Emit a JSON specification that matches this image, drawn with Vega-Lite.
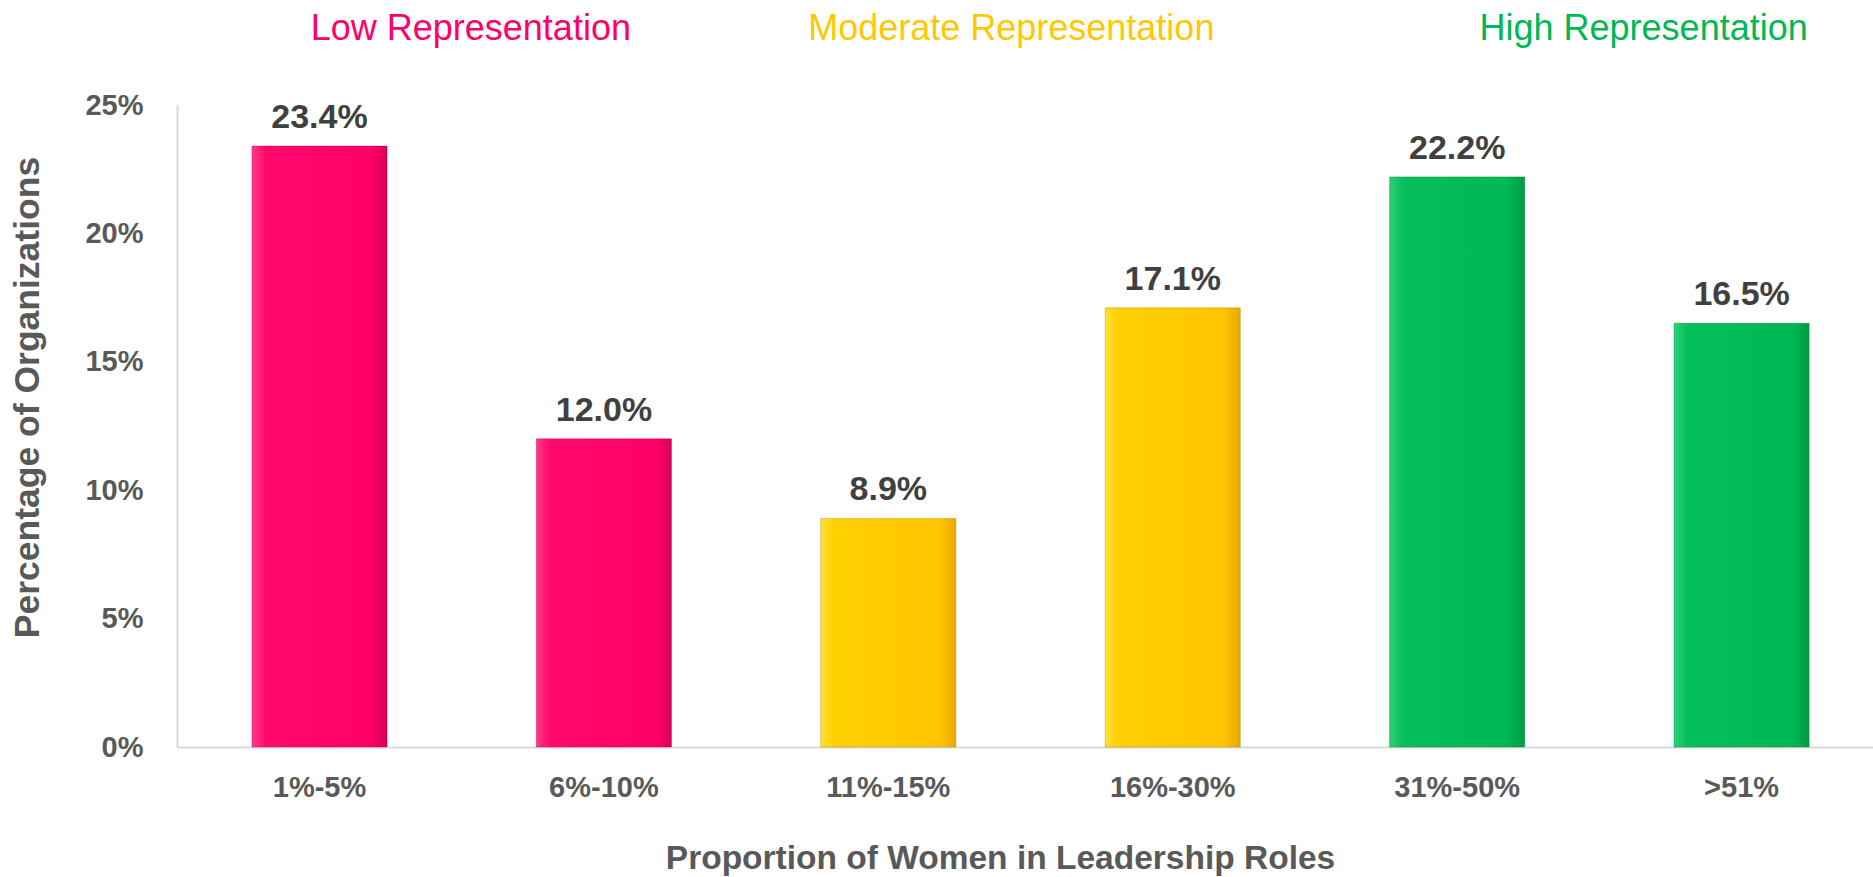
{
  "$schema": "https://vega.github.io/schema/vega-lite/v6.json",
  "width": 1696,
  "height": 642,
  "autosize": {"type": "none"},
  "padding": {"left": 177, "top": 105, "right": 0, "bottom": 130},
  "background": "white",
  "config": {"view": {"stroke": null}, "font": "Liberation Sans"},
  "datasets": {
    "bars": [
      {"range": "1%-5%", "pct": 0.234, "group": "Low Representation"},
      {"range": "6%-10%", "pct": 0.120, "group": "Low Representation"},
      {"range": "11%-15%", "pct": 0.089, "group": "Moderate Representation"},
      {"range": "16%-30%", "pct": 0.171, "group": "Moderate Representation"},
      {"range": "31%-50%", "pct": 0.222, "group": "High Representation"},
      {"range": ">51%", "pct": 0.165, "group": "High Representation"}
    ]
  },
  "data": {"name": "bars"},
  "encoding": {
    "x": {
      "field": "range",
      "type": "nominal",
      "sort": null,
      "scale": {
        "domain": ["1%-5%", "6%-10%", "11%-15%", "16%-30%", "31%-50%", ">51%"],
        "paddingInner": 0.525,
        "paddingOuter": 0.244,
        "align": 0.54
      },
      "axis": {
        "title": "Proportion of Women in Leadership Roles",
        "labelAngle": 0,
        "ticks": false,
        "grid": false,
        "domainColor": "#D9D9D9",
        "domainWidth": 2,
        "labelFont": "Liberation Sans",
        "labelFontSize": 29,
        "labelFontWeight": "bold",
        "labelColor": "#595959",
        "labelPadding": 26,
        "titleFont": "Liberation Sans",
        "titleFontSize": 33.5,
        "titleFontWeight": "bold",
        "titleColor": "#595959",
        "titleX": 823,
        "titleY": 121,
        "titleAlign": "center",
        "titleBaseline": "alphabetic"
      }
    }
  },
  "layer": [
    {
      "transform": [{"filter": "datum.group === 'Low Representation'"}],
      "mark": {
        "type": "bar",
        "stroke": "#C0004E",
        "strokeWidth": 1,
        "strokeOpacity": 0.4,
        "color": {
          "x1": 0, "y1": 0, "x2": 1, "y2": 0,
          "gradient": "linear",
          "stops": [
            {"offset": 0, "color": "#FF3A8A"},
            {"offset": 0.1, "color": "#FF0A6C"},
            {"offset": 0.88, "color": "#FF0066"},
            {"offset": 1, "color": "#D8005A"}
          ]
        }
      },
      "encoding": {
        "y": {
          "field": "pct",
          "type": "quantitative",
          "scale": {"domain": [0, 0.25], "nice": false},
          "axis": {
            "format": ".0%",
            "values": [0, 0.05, 0.1, 0.15, 0.2, 0.25],
            "grid": false,
            "ticks": false,
            "domainColor": "#D9D9D9",
            "domainWidth": 2,
            "labelFont": "Liberation Sans",
            "labelFontSize": 29,
            "labelFontWeight": "bold",
            "labelColor": "#595959",
            "labelPadding": 34,
            "title": "Percentage of Organizations",
            "titleFont": "Liberation Sans",
            "titleFontSize": 35.5,
            "titleFontWeight": "bold",
            "titleColor": "#595959",
            "titleAngle": -90,
            "titleX": -150,
            "titleY": 292,
            "titleAlign": "center",
            "titleBaseline": "middle"
          }
        }
      }
    },
    {
      "transform": [{"filter": "datum.group === 'Moderate Representation'"}],
      "mark": {
        "type": "bar",
        "stroke": "#B08A00",
        "strokeWidth": 1,
        "strokeOpacity": 0.4,
        "color": {
          "x1": 0, "y1": 0, "x2": 1, "y2": 0,
          "gradient": "linear",
          "stops": [
            {"offset": 0, "color": "#FFE033"},
            {"offset": 0.1, "color": "#FFD000"},
            {"offset": 0.88, "color": "#FFC400"},
            {"offset": 1, "color": "#E8A800"}
          ]
        }
      },
      "encoding": {"y": {"field": "pct", "type": "quantitative"}}
    },
    {
      "transform": [{"filter": "datum.group === 'High Representation'"}],
      "mark": {
        "type": "bar",
        "stroke": "#007A38",
        "strokeWidth": 1,
        "strokeOpacity": 0.4,
        "color": {
          "x1": 0, "y1": 0, "x2": 1, "y2": 0,
          "gradient": "linear",
          "stops": [
            {"offset": 0, "color": "#2ED27A"},
            {"offset": 0.1, "color": "#06BE5A"},
            {"offset": 0.88, "color": "#00B853"},
            {"offset": 1, "color": "#009A45"}
          ]
        }
      },
      "encoding": {"y": {"field": "pct", "type": "quantitative"}}
    },
    {
      "mark": {
        "type": "text",
        "baseline": "alphabetic",
        "dy": -18,
        "fontSize": 34,
        "fontWeight": "bold",
        "font": "Liberation Sans",
        "color": "#404040"
      },
      "encoding": {
        "y": {"field": "pct", "type": "quantitative"},
        "text": {"field": "pct", "type": "quantitative", "format": ".1%"}
      }
    },
    {
      "data": {"values": [{"range": "1%-5%", "label": "Low Representation"}]},
      "mark": {"type": "text", "baseline": "alphabetic", "align": "center", "fontSize": 36, "font": "Liberation Sans", "color": "#FF0066"},
      "encoding": {
        "x": {"field": "range", "type": "nominal", "bandPosition": 1.62},
        "y": {"datum": 0.2755, "type": "quantitative"},
        "text": {"field": "label"}
      }
    },
    {
      "data": {"values": [{"range": "11%-15%", "label": "Moderate Representation"}]},
      "mark": {"type": "text", "baseline": "alphabetic", "align": "center", "fontSize": 36, "font": "Liberation Sans", "color": "#FFC800"},
      "encoding": {
        "x": {"field": "range", "type": "nominal", "bandPosition": 1.41},
        "y": {"datum": 0.2755, "type": "quantitative"},
        "text": {"field": "label"}
      }
    },
    {
      "data": {"values": [{"range": "31%-50%", "label": "High Representation"}]},
      "mark": {"type": "text", "baseline": "alphabetic", "align": "center", "fontSize": 36, "font": "Liberation Sans", "color": "#00B853"},
      "encoding": {
        "x": {"field": "range", "type": "nominal", "bandPosition": 1.88},
        "y": {"datum": 0.2755, "type": "quantitative"},
        "text": {"field": "label"}
      }
    }
  ]
}
